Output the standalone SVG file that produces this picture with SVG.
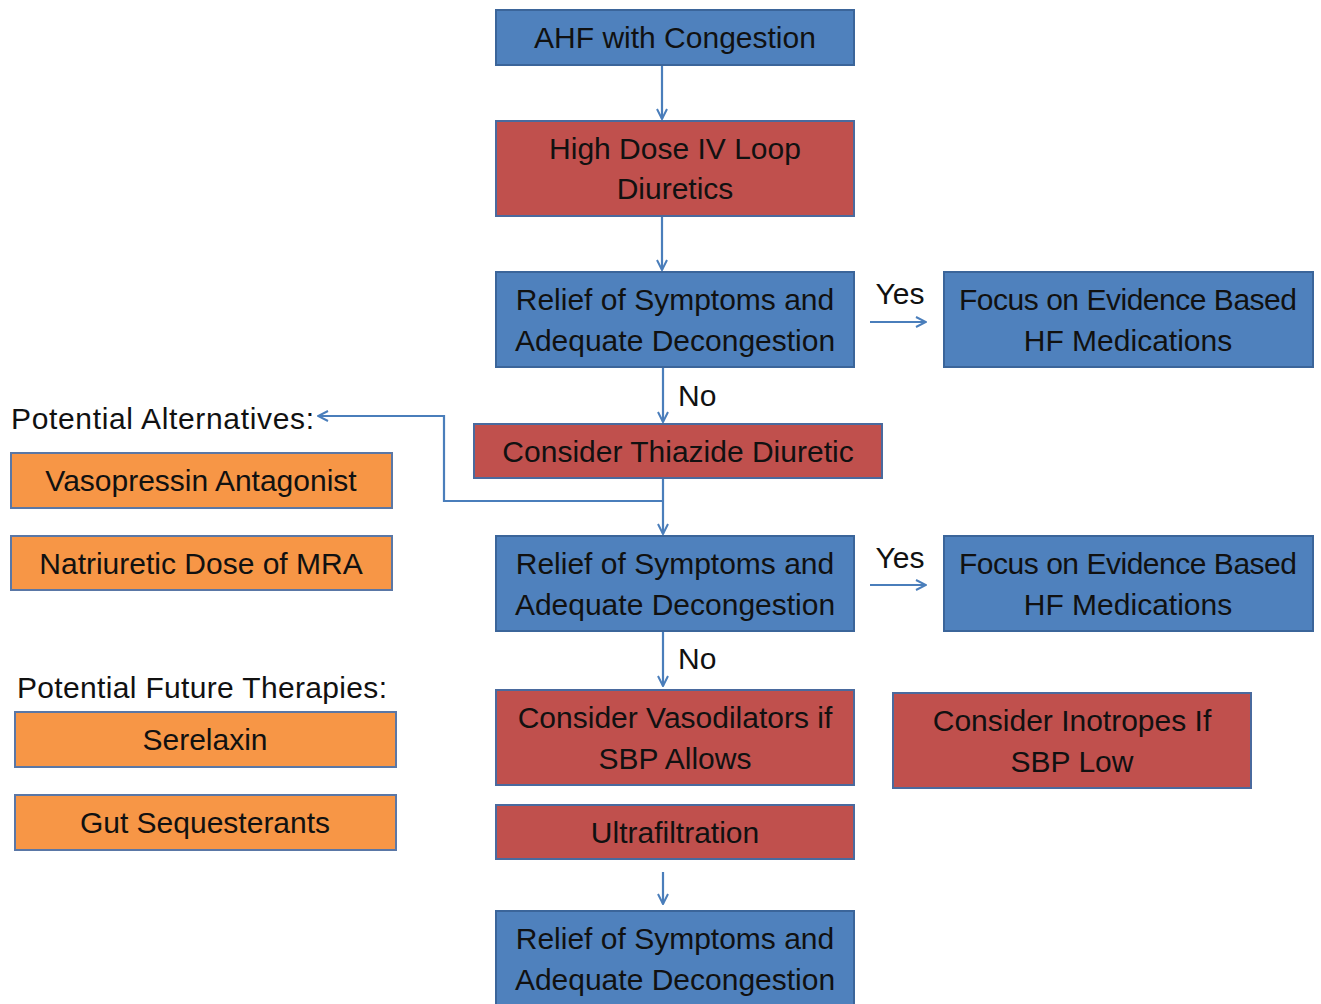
<svg xmlns="http://www.w3.org/2000/svg" width="1321" height="1004" viewBox="0 0 1321 1004">
<defs>
<marker id="ah" viewBox="0 0 12 12" refX="11" refY="6" markerWidth="12" markerHeight="12" markerUnits="userSpaceOnUse" orient="auto">
<path d="M1,1 L11,6 L1,11" fill="none" stroke="#4a7ebb" stroke-width="2"/>
</marker>
<style>
.b{fill:#4f81bd;stroke:#3b659a;stroke-width:2}
.r{fill:#c0504d;stroke:#4a6a9e;stroke-width:2}
.o{fill:#f79646;stroke:#5a77a6;stroke-width:2}
text{font-family:"Liberation Sans",Arial,sans-serif;font-size:30px;fill:#111;text-anchor:middle}
.l{text-anchor:start}
.c{fill:none;stroke:#4a7ebb;stroke-width:2.2;marker-end:url(#ah)}
</style>
</defs>
<rect width="1321" height="1004" fill="#fff"/>
<g id="connectors">
<line class="c" x1="662" y1="66" x2="662" y2="119"/>
<line class="c" x1="662" y1="217" x2="662" y2="270"/>
<line class="c" x1="663" y1="368" x2="663" y2="422"/>
<line class="c" x1="870" y1="322" x2="926" y2="322"/>
<line class="c" x1="663" y1="479" x2="663" y2="534"/>
<polyline class="c" points="663,501 444,501 444,416 318,416"/>
<line class="c" x1="870" y1="585" x2="926" y2="585"/>
<line class="c" x1="663" y1="632" x2="663" y2="686"/>
<line class="c" x1="663" y1="872" x2="663" y2="904"/>
<text x="900" y="304">Yes</text>
<text x="678" y="406" class="l">No</text>
<text x="900" y="568">Yes</text>
<text x="678" y="669" class="l">No</text>
</g>
<g id="n-ahf"><rect class="b" x="496" y="10" width="358" height="55"/><text x="675" y="48">AHF with Congestion</text></g>
<g id="n-highdose"><rect class="r" x="496" y="121" width="358" height="95"/><text x="675" y="159">High Dose IV Loop</text><text x="675" y="199">Diuretics</text></g>
<g id="n-relief1"><rect class="b" x="496" y="272" width="358" height="95"/><text x="675" y="310">Relief of Symptoms and</text><text x="675" y="351">Adequate Decongestion</text></g>
<g id="n-focus1"><rect class="b" x="944" y="272" width="369" height="95"/><text x="1128" y="310" textLength="338">Focus on Evidence Based</text><text x="1128" y="351">HF Medications</text></g>
<g id="n-thiazide"><rect class="r" x="474" y="424" width="408" height="54"/><text x="678" y="462">Consider Thiazide Diuretic</text></g>
<g id="n-relief2"><rect class="b" x="496" y="536" width="358" height="95"/><text x="675" y="574">Relief of Symptoms and</text><text x="675" y="615">Adequate Decongestion</text></g>
<g id="n-focus2"><rect class="b" x="944" y="536" width="369" height="95"/><text x="1128" y="574" textLength="338">Focus on Evidence Based</text><text x="1128" y="615">HF Medications</text></g>
<g id="n-vasodil"><rect class="r" x="496" y="690" width="358" height="95"/><text x="675" y="728">Consider Vasodilators if</text><text x="675" y="769">SBP Allows</text></g>
<g id="n-inotropes"><rect class="r" x="893" y="693" width="358" height="95"/><text x="1072" y="731">Consider Inotropes If</text><text x="1072" y="772">SBP Low</text></g>
<g id="n-ultra"><rect class="r" x="496" y="805" width="358" height="54"/><text x="675" y="843">Ultrafiltration</text></g>
<g id="n-relief3"><rect class="b" x="496" y="911" width="358" height="100"/><text x="675" y="949">Relief of Symptoms and</text><text x="675" y="990">Adequate Decongestion</text></g>
<g id="n-altlabel"><text x="11" y="429" class="l" textLength="303">Potential Alternatives:</text></g>
<g id="n-vaso"><rect class="o" x="11" y="453" width="381" height="55"/><text x="201" y="491">Vasopressin Antagonist</text></g>
<g id="n-mra"><rect class="o" x="11" y="536" width="381" height="54"/><text x="201" y="574">Natriuretic Dose of MRA</text></g>
<g id="n-futlabel"><text x="17" y="698" class="l" textLength="370">Potential Future Therapies:</text></g>
<g id="n-serelaxin"><rect class="o" x="15" y="712" width="381" height="55"/><text x="205" y="750">Serelaxin</text></g>
<g id="n-gut"><rect class="o" x="15" y="795" width="381" height="55"/><text x="205" y="833">Gut Sequesterants</text></g>
</svg>
